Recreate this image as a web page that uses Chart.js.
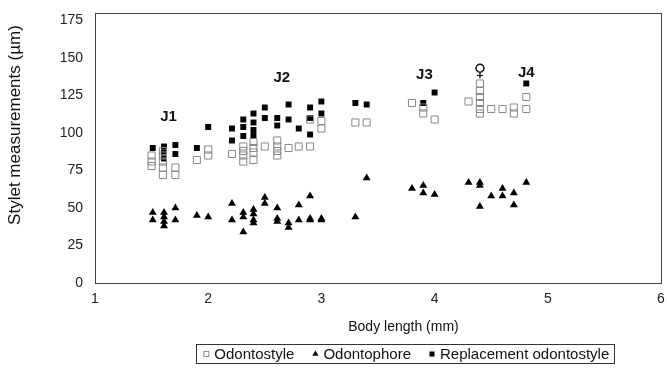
<!DOCTYPE html>
<html>
<head>
<meta charset="utf-8">
<script src="https://cdn.jsdelivr.net/npm/chart.js@4"></script>
<style>
    html, body { margin: 0; padding: 0; background: #fff; }
</style>
</head>
<body>
<canvas id="chart" width="667" height="368"></canvas>
<script>
// DATA (body length mm, stylet measurement um)
const odontostyle = [
    [1.50, 85], [1.50, 81], [1.50, 78],
    [1.60, 88], [1.60, 85], [1.60, 81], [1.60, 77], [1.60, 72],
    [1.71, 77], [1.71, 72], [1.90, 82], [2.00, 89], [2.00, 85],
    [2.21, 86], [2.31, 91], [2.31, 88], [2.31, 85], [2.31, 81],
    [2.40, 94], [2.40, 90], [2.40, 87], [2.40, 82], [2.50, 91],
    [2.61, 95], [2.61, 91], [2.61, 88], [2.61, 85], [2.71, 90],
    [2.80, 91], [2.90, 91], [2.90, 109], [3.00, 108], [3.00, 103],
    [3.30, 107], [3.40, 107], [3.80, 120], [3.90, 117], [3.90, 113],
    [4.00, 109], [4.30, 121], [4.40, 133], [4.40, 128], [4.40, 124],
    [4.40, 120], [4.40, 116], [4.40, 113], [4.50, 116], [4.60, 116],
    [4.70, 117], [4.70, 113], [4.81, 124], [4.81, 116],
];
const odontophore = [
    [1.51, 47], [1.51, 42], [1.61, 47], [1.61, 44], [1.61, 41], [1.61, 38],
    [1.71, 50], [1.71, 42], [1.90, 45], [2.00, 44], [2.21, 53], [2.21, 42],
    [2.31, 47], [2.31, 44], [2.31, 34], [2.40, 49], [2.40, 46], [2.40, 42],
    [2.40, 40], [2.50, 57], [2.50, 53], [2.61, 50], [2.61, 43], [2.61, 41],
    [2.71, 40], [2.71, 37], [2.80, 52], [2.80, 42], [2.90, 58], [2.90, 43],
    [2.90, 42], [3.00, 43], [3.00, 42], [3.30, 44], [3.40, 70], [3.80, 63],
    [3.90, 65], [3.90, 60], [4.00, 59], [4.30, 67], [4.40, 67], [4.40, 65],
    [4.40, 51], [4.50, 58], [4.60, 63], [4.60, 58], [4.70, 60], [4.70, 52],
    [4.81, 67],
];
const replacement = [
    [1.51, 90], [1.61, 91], [1.61, 87], [1.61, 83], [1.71, 92], [1.71, 86],
    [1.90, 90], [2.00, 104], [2.21, 103], [2.21, 95], [2.31, 109], [2.31, 104],
    [2.31, 98], [2.40, 113], [2.40, 107], [2.40, 102], [2.40, 98], [2.50, 117],
    [2.50, 110], [2.61, 110], [2.61, 105], [2.71, 119], [2.71, 109], [2.80, 103],
    [2.90, 117], [2.90, 110], [2.90, 99], [3.00, 121], [3.00, 113], [3.30, 120],
    [3.40, 119], [3.90, 120], [4.00, 127], [4.81, 133],
];
const seriesNames = ["Odontostyle", "Odontophore", "Replacement odontostyle"];
const xTicks = [1, 2, 3, 4, 5, 6];
const yTicks = [0, 25, 50, 75, 100, 125, 150, 175];
const xTitle = "Body length (mm)";
const yTitle = "Stylet measurements (\u00b5m)";
// stage labels placed in data units
const groupLabels = [
    { text: "J1", x: 1.65, y: 111 },
    { text: "J2", x: 2.65, y: 137 },
    { text: "J3", x: 3.91, y: 139 },
    { text: "J4", x: 4.81, y: 140 },
    { text: "\u2640", x: 4.40, y: 141 },
];

const toPoints = (arr) => arr.map((p) => ({ x: p[0], y: p[1] }));
const FONT = "'Liberation Sans', Arial, sans-serif";

// frame, axis titles, stage labels and the boxed legend
const extras = {
    id: "extras",
    afterDraw(chart) {
        const { ctx, chartArea: a, scales } = chart;
        ctx.save();
        ctx.strokeStyle = "#444";
        ctx.lineWidth = 1;
        ctx.strokeRect(Math.round(a.left) + 0.5, Math.round(a.top) + 0.5,
            Math.round(a.right - a.left), Math.round(a.bottom - a.top));

        ctx.fillStyle = "#111";
        ctx.textAlign = "center";
        ctx.textBaseline = "middle";
        groupLabels.forEach((g) => {
            ctx.font = g.text === "\u2640" ? "17px 'DejaVu Sans'" : "bold 15px " + FONT;
            ctx.fillText(g.text, scales.x.getPixelForValue(g.x), scales.y.getPixelForValue(g.y));
        });

        // axis titles (sit a little off-centre in the original figure)
        ctx.font = "14px " + FONT;
        ctx.fillText(xTitle, a.left + (a.right - a.left) * 0.545, a.bottom + 44);
        ctx.save();
        ctx.translate(15, a.top + (a.bottom - a.top) * 0.415);
        ctx.rotate(-Math.PI / 2);
        ctx.font = "17px " + FONT;
        ctx.fillText(yTitle, 0, 0);
        ctx.restore();

        // legend
        ctx.font = "15px " + FONT;
        const gap = 5, itemSpace = 18, mark = 6;
        const widths = seriesNames.map((s) => ctx.measureText(s).width);
        const inner = widths.reduce((s, w) => s + w + mark + gap, 0) + itemSpace * (widths.length - 1);
        const cx = a.left + (a.right - a.left) * 0.55;
        const cy = a.bottom + 71;
        let x = cx - inner / 2;
        ctx.strokeStyle = "#333";
        ctx.strokeRect(Math.round(x - 7) + 0.5, Math.round(cy - 10) + 0.5, Math.round(inner + 12), 19);
        ctx.textAlign = "left";
        chart.data.datasets.forEach((ds, i) => {
            ctx.fillStyle = ds.backgroundColor;
            ctx.strokeStyle = ds.borderColor;
            ctx.lineWidth = ds.borderWidth;
            Chart.helpers.drawPoint(ctx, {
                pointStyle: ds.pointStyle,
                radius: 3.6,
                rotation: 0,
                borderWidth: ds.borderWidth,
            }, x + mark / 2, cy);
            ctx.fillStyle = "#111";
            ctx.fillText(seriesNames[i], x + mark + gap, cy + 1);
            x += mark + gap + widths[i] + itemSpace;
        });
        ctx.restore();
    },
};

const chart = new Chart(document.getElementById("chart"), {
    type: "scatter",
    data: {
        datasets: [
            {
                label: seriesNames[0],
                data: toPoints(odontostyle),
                pointStyle: "rect",
                pointRadius: 5,
                borderWidth: 1,
                borderColor: "#888",
                backgroundColor: "rgba(255,255,255,0)",
            },
            {
                label: seriesNames[1],
                data: toPoints(odontophore),
                pointStyle: "triangle",
                pointRadius: 4.6,
                borderWidth: 0,
                borderColor: "#000",
                backgroundColor: "#000",
            },
            {
                label: seriesNames[2],
                data: toPoints(replacement),
                pointStyle: "rect",
                pointRadius: 4.2,
                borderWidth: 0,
                borderColor: "#000",
                backgroundColor: "#000",
            },
        ],
    },
    options: {
        responsive: false,
        animation: false,
        layout: { padding: { left: 0, top: 13, right: 5, bottom: 0 } },
        plugins: {
            tooltip: { enabled: false },
            legend: { display: false },
        },
        scales: {
            x: {
                type: "linear",
                min: 1,
                max: 6,
                grid: { display: false, drawTicks: false },
                border: { display: false },
                afterBuildTicks: (axis) => {
                    axis.ticks = xTicks.map((v) => ({ value: v }));
                },
                afterFit: (scale) => {
                    scale.height = 85;
                    scale.paddingLeft = 0;
                    scale.paddingRight = 0;
                },
                ticks: { padding: 8, color: "#222", font: { family: FONT, size: 14 } },
            },
            y: {
                min: 0,
                max: 180,
                grid: { display: false, drawTicks: false },
                border: { display: false },
                afterBuildTicks: (axis) => {
                    axis.ticks = yTicks.map((v) => ({ value: v }));
                },
                afterFit: (scale) => {
                    scale.width = 95;
                    scale.paddingTop = 0;
                    scale.paddingBottom = 0;
                },
                ticks: { padding: 12, color: "#222", font: { family: FONT, size: 14 } },
            },
        },
    },
    plugins: [extras],
});
</script>
</body>
</html>
